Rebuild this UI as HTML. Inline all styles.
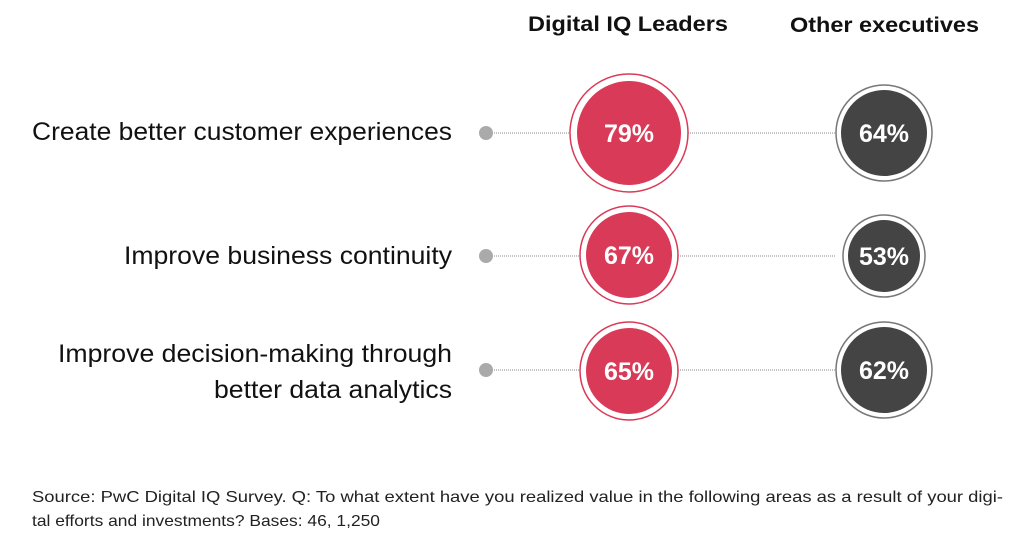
<!DOCTYPE html>
<html><head><style>
body{margin:0;width:1024px;height:544px;background:#fff;overflow:hidden;font-family:"Liberation Sans",sans-serif}
</style></head><body>
<svg width="1024" height="544" xmlns="http://www.w3.org/2000/svg" font-family="Liberation Sans, sans-serif">
<text x="528" y="31" font-size="21" font-weight="bold" fill="#111" textLength="200" lengthAdjust="spacingAndGlyphs">Digital IQ Leaders</text>
<text x="790" y="32" font-size="21" font-weight="bold" fill="#111" textLength="189" lengthAdjust="spacingAndGlyphs">Other executives</text>
<g font-size="25" fill="#111" text-anchor="end">
<text x="452" y="140" textLength="420" lengthAdjust="spacingAndGlyphs">Create better customer experiences</text>
<text x="452" y="264" textLength="328" lengthAdjust="spacingAndGlyphs">Improve business continuity</text>
<text x="452" y="362" textLength="394" lengthAdjust="spacingAndGlyphs">Improve decision-making through</text>
<text x="452" y="398" textLength="238" lengthAdjust="spacingAndGlyphs">better data analytics</text>
</g>
<g stroke="#888" stroke-width="1" stroke-dasharray="1,1">
<line x1="486" y1="133" x2="836" y2="133"/>
<line x1="486" y1="256" x2="836" y2="256"/>
<line x1="486" y1="370" x2="836" y2="370"/>
</g>
<g fill="#aaa"><circle cx="486" cy="133" r="7"/><circle cx="486" cy="256" r="7"/><circle cx="486" cy="370" r="7"/></g>
<g>
<circle cx="629" cy="133" r="59" fill="#fff" stroke="#d93a57" stroke-width="1.5"/><circle cx="629" cy="133" r="52" fill="#d93a57"/>
<circle cx="629" cy="255" r="49" fill="#fff" stroke="#d93a57" stroke-width="1.5"/><circle cx="629" cy="255" r="43" fill="#d93a57"/>
<circle cx="629" cy="371" r="49" fill="#fff" stroke="#d93a57" stroke-width="1.5"/><circle cx="629" cy="371" r="43" fill="#d93a57"/>
<circle cx="884" cy="133" r="48" fill="#fff" stroke="#777" stroke-width="1.5"/><circle cx="884" cy="133" r="43" fill="#444"/>
<circle cx="884" cy="256" r="41" fill="#fff" stroke="#777" stroke-width="1.5"/><circle cx="884" cy="256" r="36" fill="#444"/>
<circle cx="884" cy="370" r="48" fill="#fff" stroke="#777" stroke-width="1.5"/><circle cx="884" cy="370" r="43" fill="#444"/>
</g>
<g font-size="25" font-weight="bold" fill="#fff" text-anchor="middle">
<text x="629" y="142">79%</text><text x="629" y="264">67%</text><text x="629" y="380">65%</text>
<text x="884" y="142">64%</text><text x="884" y="265">53%</text><text x="884" y="379">62%</text>
</g>
<g font-size="16" fill="#222">
<text x="32" y="502" textLength="971" lengthAdjust="spacingAndGlyphs">Source: PwC Digital IQ Survey. Q: To what extent have you realized value in the following areas as a result of your digi-</text>
<text x="32" y="526" textLength="348" lengthAdjust="spacingAndGlyphs">tal efforts and investments? Bases: 46, 1,250</text>
</g>
</svg>
</body></html>
